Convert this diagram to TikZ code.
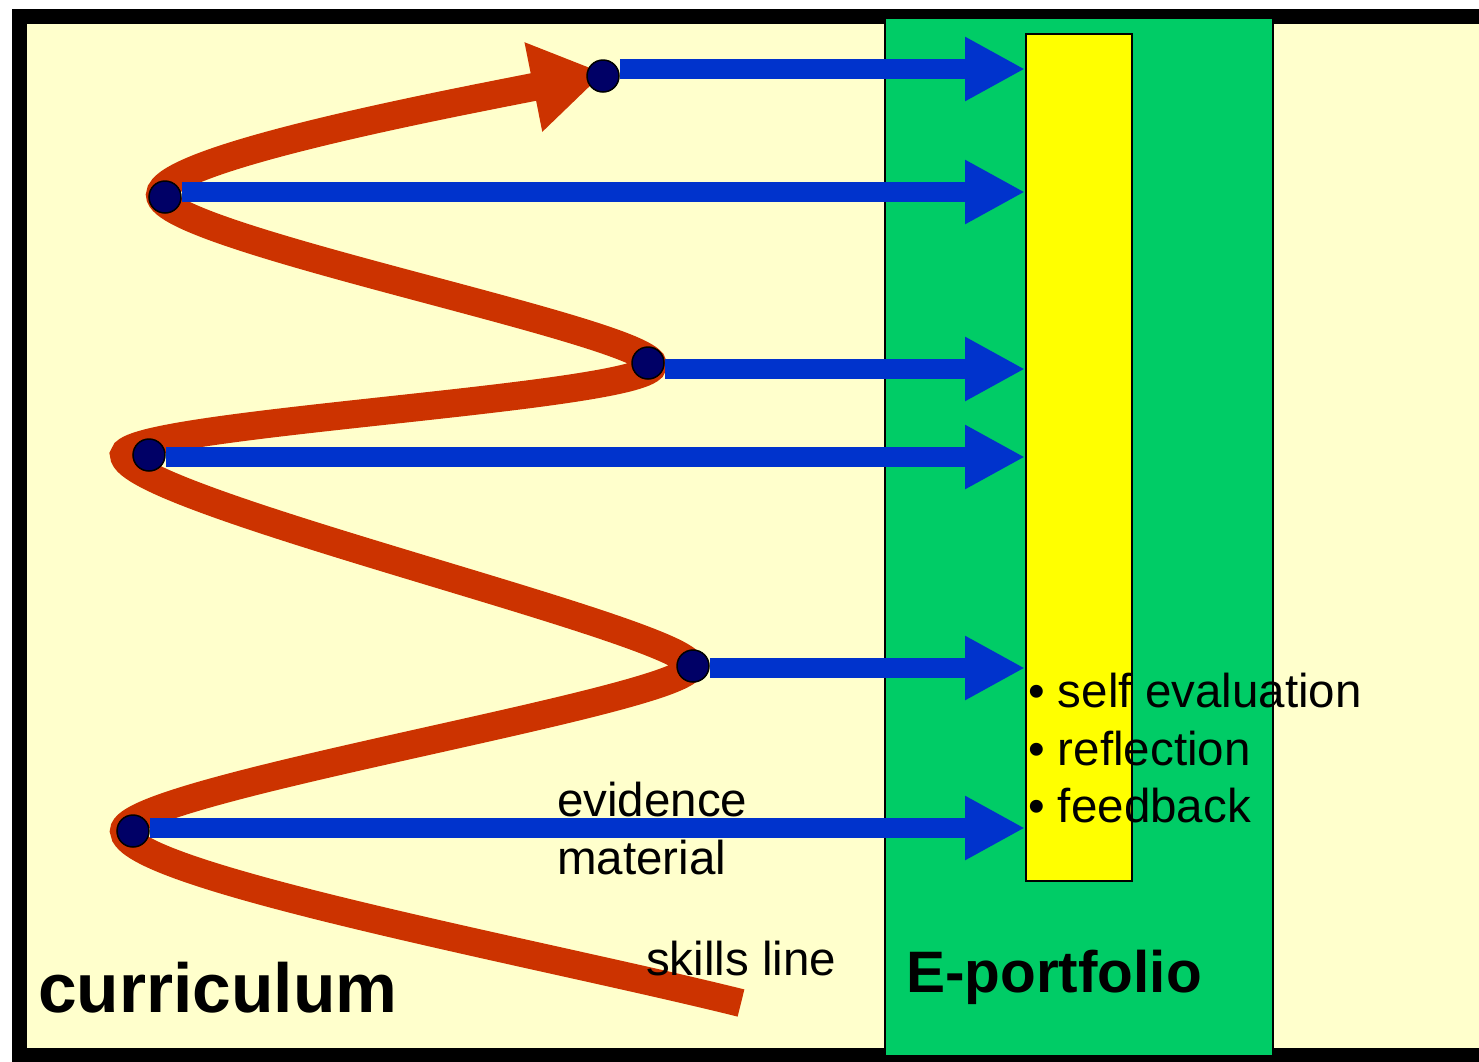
\documentclass[tikz,border=0pt]{standalone}
\usepackage{fontspec}
\setmainfont{Liberation Sans}
\usetikzlibrary{arrows.meta}
\definecolor{bgyel}{HTML}{FFFFCC}
\definecolor{pgreen}{HTML}{00CC66}
\definecolor{pyel}{HTML}{FFFF00}
\definecolor{eblue}{HTML}{0033CC}
\definecolor{sred}{HTML}{CC3300}
\definecolor{navy}{HTML}{000066}
\begin{document}
\begin{tikzpicture}[x=1pt,y=-1pt,
  dotnode/.style={circle,draw=black,line width=1.5pt,fill=navy,minimum size=32pt,inner sep=0pt},
  evarrow/.style={draw=eblue,line width=20pt,-{Triangle[length=60pt,width=60pt]},eblue},
  lbl/.style={anchor=base west,inner sep=0pt,font=\fontsize{47.5}{57}\selectfont},
  biglbl/.style={anchor=base west,inner sep=0pt,font=\bfseries\fontsize{#1}{#1}\selectfont}]
\useasboundingbox (0,0) rectangle (1479,1061);
\clip (0,0) rectangle (1479,1061);
\fill[white] (0,0) rectangle (1479,1061);
% frame
\draw[line width=15pt,fill=bgyel] (19.5,16) rectangle (1520,1055);
% E-portfolio column
\node[draw=black,fill=pgreen,line width=1.5pt,anchor=north west,inner sep=0pt,
      minimum width=388pt,minimum height=1038pt] (col) at (884,17) {};
\node[draw=black,fill=pyel,line width=2pt,anchor=north west,inner sep=0pt,
      minimum width=106pt,minimum height=847pt] (pf) at (1025,33) {};
% skills line turning points
\coordinate (S) at (741,1003);
\coordinate (T1) at (124,831);
\coordinate (T2) at (691,666);
\coordinate (T3) at (124,455);
\coordinate (T4) at (653,365);
\coordinate (T5) at (160,195);
\coordinate (tip) at (604,73);
\draw[sred,line width=28pt,-{Triangle[length=72pt,width=86pt]}]
  (S) .. controls (540,953) and (124,876) .. (T1)
      .. controls (124,789) and (691,700) .. (T2)
      .. controls (691,632) and (124,500) .. (T3)
      .. controls (124,423) and (653,398) .. (T4)
      .. controls (653,332) and (160,238) .. (T5)
      .. controls (160,158) and (453,103) .. (tip);
% dots
\node[dotnode] (d1) at (603,76) {};
\node[dotnode] (d2) at (165,197) {};
\node[dotnode] (d3) at (648,363) {};
\node[dotnode] (d4) at (149,455) {};
\node[dotnode] (d5) at (693,666) {};
\node[dotnode] (d6) at (133,831) {};
% arrow targets
\coordinate (t1) at (1025,69);
\coordinate (t2) at (1025,192);
\coordinate (t3) at (1025,369);
\coordinate (t4) at (1025,457);
\coordinate (t5) at (1025,668);
\coordinate (t6) at (1025,828);
\draw[evarrow] (d1.east |- t1) -- (t1);
\draw[evarrow] (d2.east |- t2) -- (t2);
\draw[evarrow] (d3.east |- t3) -- (t3);
\draw[evarrow] (d4.east |- t4) -- (t4);
\draw[evarrow] (d5.east |- t5) -- (t5);
\draw[evarrow] (d6.east |- t6) -- (t6);
% labels
\node[biglbl=69.5] (cur) at (38,1012) {curriculum};
\node[biglbl=58.5] (ep) at (906,992) {E-portfolio};
\node[lbl] (sk) at (646,975) {skills line};
\node[lbl] (ev1) at (557,816) {evidence};
\node[lbl] (ev2) at (557,874) {material};
\node[lbl] (b1) at (1028,707) {• self evaluation};
\node[lbl] (b2) at (1028,765) {• reflection};
\node[lbl] (b3) at (1028,822) {• feedback};
\end{tikzpicture}
\end{document}
